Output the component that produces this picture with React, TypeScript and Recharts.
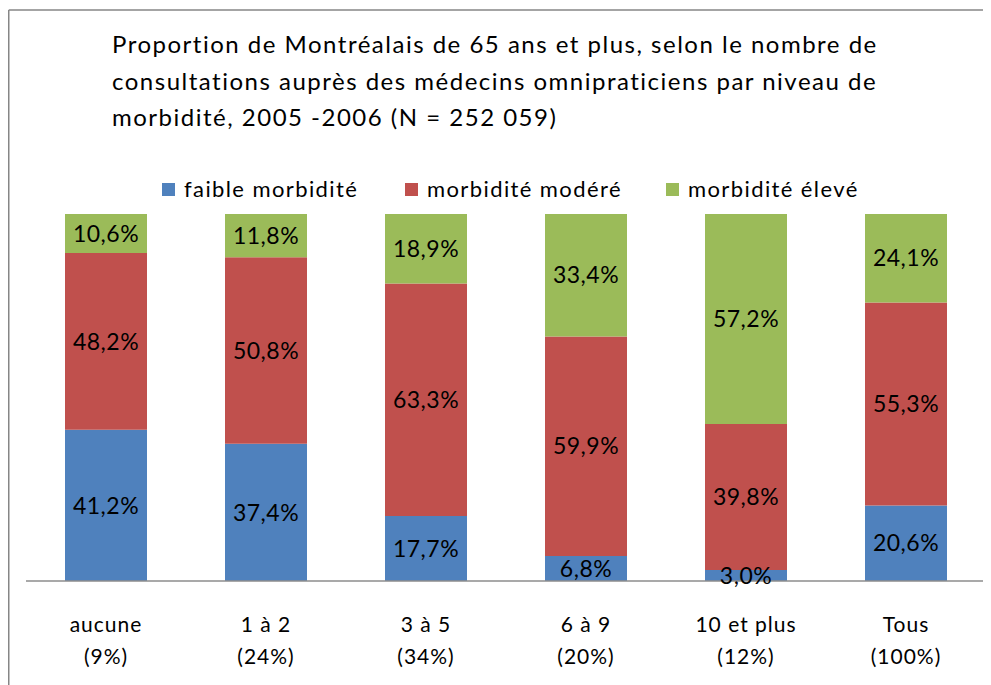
import React from "react";
import { BarChart, Bar, XAxis, YAxis, LabelList } from "recharts";

const categories = ["aucune", "1 à 2", "3 à 5", "6 à 9", "10 et plus", "Tous"];
const shares = ["(9%)", "(24%)", "(34%)", "(20%)", "(12%)", "(100%)"];
const faible = [41.2, 37.4, 17.7, 6.8, 3.0, 20.6];
const modere = [48.2, 50.8, 63.3, 59.9, 39.8, 55.3];
const eleve = [10.6, 11.8, 18.9, 33.4, 57.2, 24.1];
const titleLines = [
  "Proportion de Montréalais de 65 ans et plus, selon le nombre de",
  "consultations auprès des médecins omnipraticiens par niveau de",
  "morbidité, 2005 -2006 (N = 252 059)",
];
const seriesNames = ["faible morbidité", "morbidité modéré", "morbidité élevé"];
const colors = ["#4F81BD", "#C0504D", "#9BBB59"];

const data = categories.map((c, i) => ({
  cat: c,
  share: shares[i],
  faible: faible[i],
  modere: modere[i],
  eleve: eleve[i],
}));

const FONT = "Lato, 'Liberation Sans', sans-serif";

const fmt = (v: any) => `${Number(v).toFixed(1).replace(".", ",")}%`;

const Tick = (props: any) => {
  const { x, y, payload, index } = props;
  return (
    <text
      x={x}
      y={y}
      textAnchor="middle"
      fontFamily={FONT}
      fontSize={21}
      letterSpacing={1}
      fill="#000"
    >
      <tspan x={x} dy={51}>{payload.value}</tspan>
      <tspan x={x} dy={32}>{shares[index]}</tspan>
    </text>
  );
};

const keys = ["faible", "modere", "eleve"];
const legendX = [154, 397, 658];

export default function App() {
  return (
    <div style={{ position: "relative", width: 983, height: 677, background: "#fff" }}>
      <BarChart
        width={983}
        height={677}
        data={data}
        stackOffset="expand"
        margin={{ top: 206, right: 5, left: 18, bottom: 24 }}
      >
        <XAxis
          dataKey="cat"
          height={80}
          interval={0}
          tickLine={false}
          tickSize={0}
          tickMargin={0}
          axisLine={{ stroke: "#8c8c8c", strokeWidth: 1.5 }}
          tick={<Tick />}
        />
        <YAxis hide />
        {keys.map((k, i) => (
          <Bar key={k} dataKey={k} stackId="a" fill={colors[i]} barSize={82} isAnimationActive={false}>
            <LabelList
              dataKey={k}
              position="center"
              formatter={fmt}
              fill="#000"
              fontSize={23}
              letterSpacing={0.5}
              fontFamily={FONT}
            />
          </Bar>
        ))}
      </BarChart>
      <svg
        width={983}
        height={677}
        style={{ position: "absolute", left: 0, top: 0, pointerEvents: "none" }}
      >
        <line x1={0.75} y1={2} x2={983} y2={2} stroke="#868686" strokeWidth={1.5} />
        <line x1={0.75} y1={2} x2={0.75} y2={677} stroke="#868686" strokeWidth={1.5} />
        {titleLines.map((t, i) => (
          <text
            key={i}
            x={104}
            y={45 + i * 36.5}
            fontFamily={FONT}
            fontSize={24}
            letterSpacing={1.5}
            fill="#000"
          >
            {t}
          </text>
        ))}
        {seriesNames.map((n, i) => (
          <g key={n}>
            <rect x={legendX[i]} y={175} width={13} height={13} fill={colors[i]} />
            <text
              x={legendX[i] + 22}
              y={189}
              fontFamily={FONT}
              fontSize={22}
              letterSpacing={1.4}
              fill="#000"
            >
              {n}
            </text>
          </g>
        ))}
      </svg>
    </div>
  );
}
